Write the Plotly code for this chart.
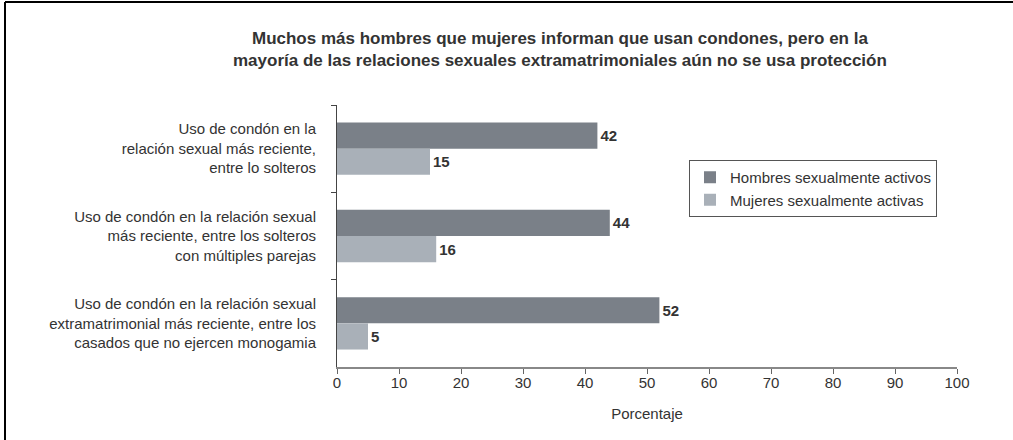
import plotly.graph_objects as go

categories = [
    "Uso de condón en la<br>relación sexual más reciente,<br>entre lo solteros",
    "Uso de condón en la relación sexual<br>más reciente, entre los solteros<br>con múltiples parejas",
    "Uso de condón en la relación sexual<br>extramatrimonial más reciente, entre los<br>casados que no ejercen monogamia",
]
hombres = [42, 44, 52]
mujeres = [15, 16, 5]
series_names = ["Hombres sexualmente activos", "Mujeres sexualmente activas"]
x_ticks = [0, 10, 20, 30, 40, 50, 60, 70, 80, 90, 100]

W, H = 1013, 440
L, R, T, B = 337, 56, 105, 73
pw, ph = W - L - R, H - T - B

def px(x):
    return (x - L) / pw

def py(y):
    return (H - B - y) / ph

font_family = "Liberation Sans, Arial, sans-serif"
txt = "#333333"

fig = go.Figure()
fig.add_trace(go.Bar(
    y=categories, x=hombres, orientation="h", name=series_names[0],
    marker=dict(color="#7a8088", line=dict(width=0)),
    text=hombres, texttemplate="<b>%{x}</b>", textposition="outside",
    textfont=dict(size=15, color=txt, family=font_family), cliponaxis=False,
))
fig.add_trace(go.Bar(
    y=categories, x=mujeres, orientation="h", name=series_names[1],
    marker=dict(color="#a9b0b8", line=dict(width=0)),
    text=mujeres, texttemplate="<b>%{x}</b>", textposition="outside",
    textfont=dict(size=15, color=txt, family=font_family), cliponaxis=False,
))

fig.update_layout(
    width=W, height=H,
    margin=dict(l=L, r=R, t=T, b=B, pad=0),
    paper_bgcolor="white", plot_bgcolor="white",
    barmode="group", bargap=0.40, bargroupgap=0,
    font=dict(family=font_family, size=15, color=txt),
    showlegend=True,
    legend=dict(
        x=px(689), y=py(160), xanchor="left", yanchor="top",
        bgcolor="white", bordercolor="#555555", borderwidth=1,
        font=dict(size=15, color=txt, family=font_family),
        itemwidth=30, traceorder="normal", tracegroupgap=0,
    ),
    xaxis=dict(
        range=[0, 100], tickvals=x_ticks, ticks="outside", ticklen=5,
        tickcolor="#666666", showline=True, linecolor="#888888", linewidth=2,
        showgrid=False, zeroline=False, ticklabelstandoff=-4,
        tickfont=dict(size=15, color=txt),
        title=dict(text="Porcentaje", font=dict(size=15, color=txt), standoff=18),
    ),
    yaxis=dict(
        autorange="reversed", ticks="outside", ticklen=5, tickson="boundaries",
        tickcolor="#444444", showline=True, linecolor="#444444", linewidth=1,
        showgrid=False, zeroline=False, ticklabelstandoff=17,
        tickfont=dict(size=15, color=txt),
    ),
    annotations=[dict(
        text="<b>Muchos más hombres que mujeres informan que usan condones, pero en la<br>"
             "mayoría de las relaciones sexuales extramatrimoniales aún no se usa protección</b>",
        xref="paper", yref="paper", x=px(560), y=py(49), xanchor="center", yanchor="middle",
        showarrow=False, font=dict(size=17, color=txt, family=font_family), align="center",
    )],
    shapes=[
        dict(type="line", xref="paper", yref="paper", x0=px(5), x1=px(5), y0=py(440), y1=py(2),
             line=dict(color="black", width=2)),
        dict(type="line", xref="paper", yref="paper", x0=px(5), x1=px(1013), y0=py(2), y1=py(2),
             line=dict(color="black", width=2)),
    ],
)

fig.write_html("out.html", config={"displayModeBar": False},
               post_script="document.body.style.margin='0px';")
